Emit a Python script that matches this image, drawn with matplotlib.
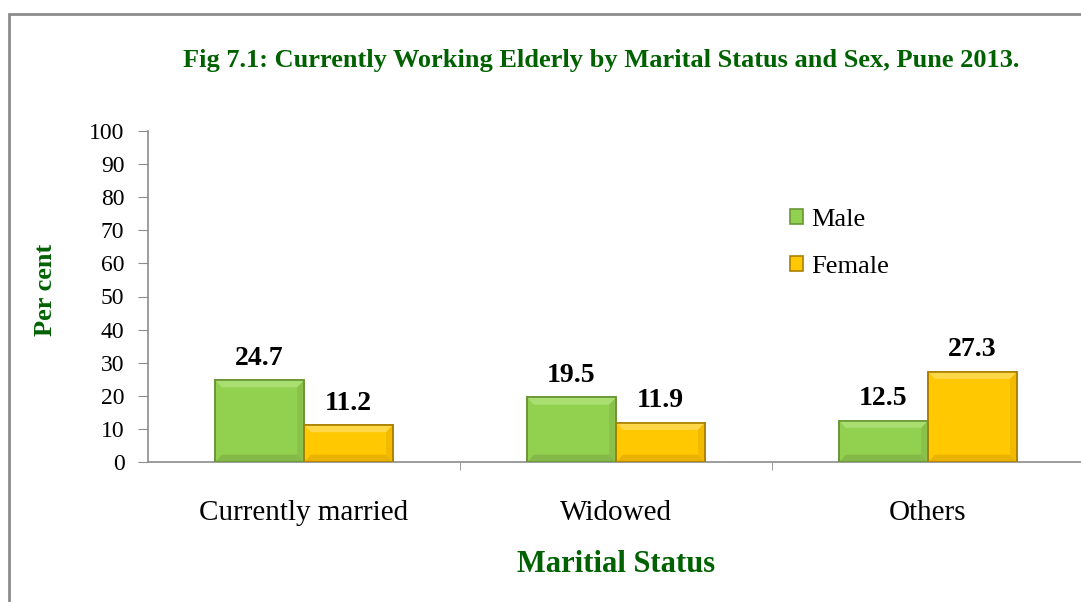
import numpy as np
import matplotlib.pyplot as plt
from matplotlib.patches import Rectangle, Polygon

categories = ['Currently married', 'Widowed', 'Others']
male = [24.7, 19.5, 12.5]
female = [11.2, 11.9, 27.3]

plt.rcParams['font.family'] = ['Liberation Serif', 'DejaVu Serif']

fig = plt.figure(figsize=(10.81, 6.02), dpi=100)
ax = fig.add_axes([148/1081, 140/602, 936/1081, 331/602])

# outer chart border (only top and left are visible in the crop)
fig.patches.append(Rectangle((9/1081, -0.1), 1.2, (602-14)/602 + 0.1, transform=fig.transFigure,
                             fill=False, edgecolor='#8c8c8c', linewidth=2))

x = np.arange(len(categories))
w = 0.285
b1 = ax.bar(x - w/2, male, w, color='#92D050', edgecolor='#6a9636', linewidth=1.2, label='Male', zorder=2)
b2 = ax.bar(x + w/2, female, w, color='#FFC800', edgecolor='#a88000', linewidth=1.2, label='Female', zorder=2)

ax.set_xlim(-0.5, 2.5)
ax.set_ylim(0, 100)

# bevel look: lighter top edge, darker bottom edge
bx = 0.022   # bevel width in x units
by = 2.2     # bevel height in y units
for bars, light, dark in [(b1, '#a9de70', '#84b848'), (b2, '#ffd84a', '#eab200')]:
    for r in bars:
        x0, x1, h = r.get_x(), r.get_x() + r.get_width(), r.get_height()
        ax.add_patch(Polygon([(x0, h), (x1, h), (x1 - bx, h - by), (x0 + bx, h - by)],
                             closed=True, facecolor=light, edgecolor='none', zorder=3))
        ax.add_patch(Polygon([(x0, 0), (x1, 0), (x1 - bx, by), (x0 + bx, by)],
                             closed=True, facecolor=dark, edgecolor='none', zorder=3))
        ax.add_patch(Polygon([(x1, 0), (x1, h), (x1 - bx, h - by), (x1 - bx, by)],
                             closed=True, facecolor=dark, edgecolor='none', alpha=0.6, zorder=3))
        ax.add_patch(Rectangle((x0, 0), x1 - x0, h, fill=False, edgecolor=r.get_edgecolor(),
                               linewidth=1.2, zorder=4))

for bars, vals in [(b1, male), (b2, female)]:
    for r, v in zip(bars, vals):
        ax.annotate(f'{v}', (r.get_x() + r.get_width()/2, v), xytext=(0, 11),
                    textcoords='offset points', ha='center', va='baseline',
                    fontsize=20, fontweight='bold')

ax.set_yticks(range(0, 101, 10))
ax.set_xticks(x)
ax.set_xticklabels(categories, fontsize=21)
ax.set_xticks([0.5, 1.5], minor=True)
ax.tick_params(axis='x', which='major', length=0, pad=27)
ax.tick_params(axis='x', which='minor', length=6, color='#8c8c8c')
ax.tick_params(axis='y', labelsize=17, length=7, color='#8c8c8c', pad=10)
for s in ['top', 'right']:
    ax.spines[s].set_visible(False)
for s in ['left', 'bottom']:
    ax.spines[s].set_color('#8c8c8c')
    ax.spines[s].set_linewidth(1.2)

fig.text(46/1081, 1 - 290/602, 'Per cent', rotation=90, ha='center', va='center',
         fontsize=19, fontweight='bold', color='#006100')
fig.text(616/1081, 1 - 565/602, 'Maritial Status', ha='center', va='center',
         fontsize=22, fontweight='bold', color='#006100')
fig.text(601/1081, 1 - 61/602, 'Fig 7.1: Currently Working Elderly by Marital Status and Sex, Pune 2013.',
         ha='center', va='center', fontsize=19, fontweight='bold', color='#006100')

ax.legend(loc='upper left', bbox_to_anchor=(0.686, 0.764), frameon=False, fontsize=19,
          handlelength=0.5, handleheight=0.5, handletextpad=0.3, labelspacing=0.95,
          borderpad=0, borderaxespad=0)

fig.savefig('out.png', dpi=100)
